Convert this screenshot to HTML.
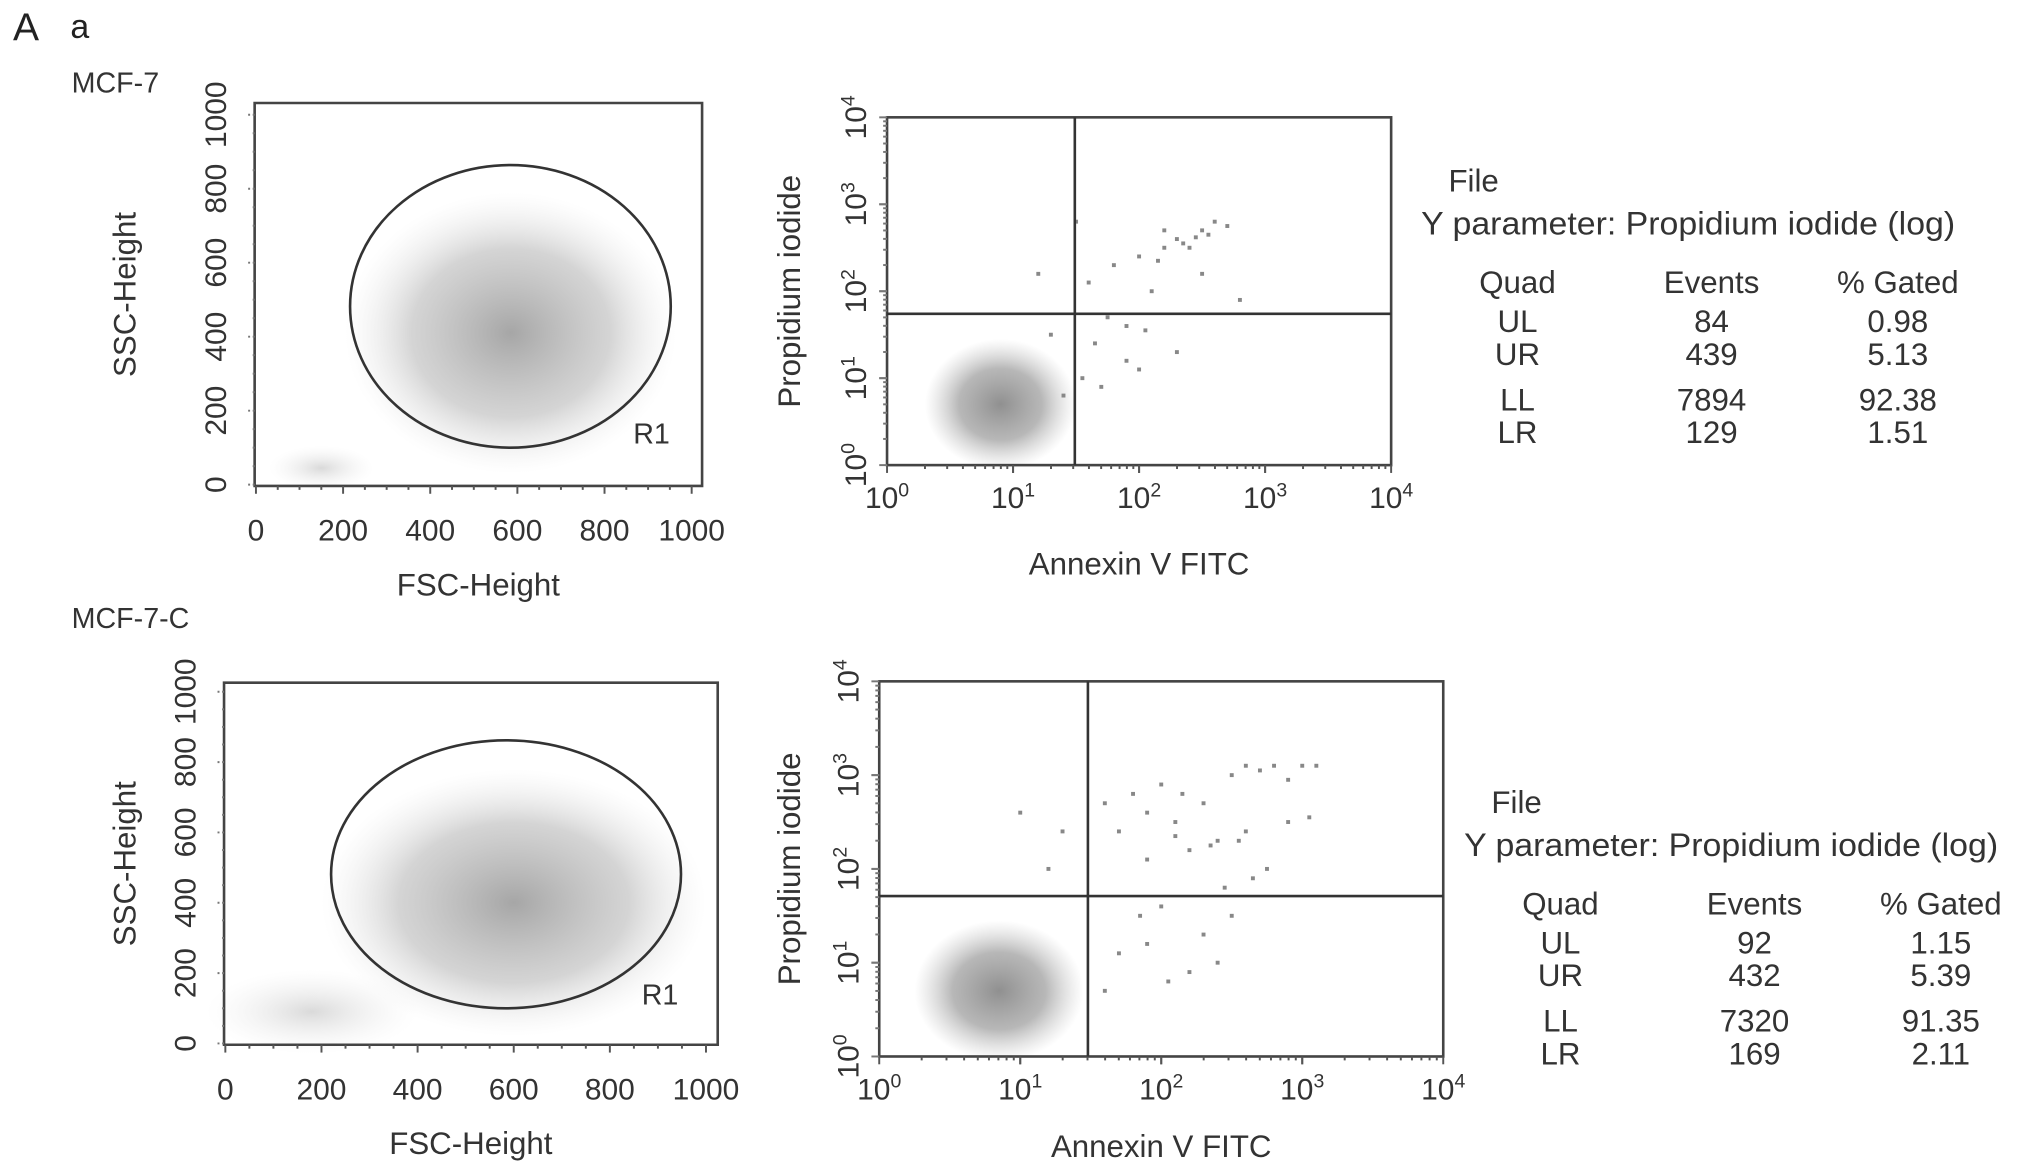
<!DOCTYPE html>
<html><head><meta charset="utf-8"><style>
html,body{margin:0;padding:0;background:#fff;}
svg{display:block;font-family:"Liberation Sans",sans-serif;}
</style></head><body>
<svg id="fig" width="2032" height="1166" viewBox="0 0 1560 895" xmlns="http://www.w3.org/2000/svg">
<defs>
<radialGradient id="gDense"><stop offset="0" stop-color="#8a8a8a" stop-opacity="0.95"/><stop offset="0.55" stop-color="#999" stop-opacity="0.7"/><stop offset="1" stop-color="#bbb" stop-opacity="0"/></radialGradient>
<radialGradient id="gSoft"><stop offset="0" stop-color="#909090" stop-opacity="0.8"/><stop offset="0.6" stop-color="#aaa" stop-opacity="0.5"/><stop offset="1" stop-color="#ddd" stop-opacity="0"/></radialGradient>
<radialGradient id="gFaint"><stop offset="0" stop-color="#d0d0d0" stop-opacity="0.8"/><stop offset="1" stop-color="#eee" stop-opacity="0"/></radialGradient>
</defs>
<text x="10" y="31" font-size="30" fill="#222">A</text>
<text x="54" y="29" font-size="26" fill="#222">a</text>
<g id="root"></g>
</svg>
<script>
// ---------- data ----------
const linTicks = [0, 200, 400, 600, 800, 1000];
const logTicks = [0, 1, 2, 3, 4];
// FSC/SSC density clusters: [main, debris]
const p1ClusterFsc = [585, 150];
const p1ClusterSsc = [410, 45];
const p1ClusterSdFsc = [190, 60];
const p1ClusterSdSsc = [190, 30];
const p2ClusterFsc = [600, 180];
const p2ClusterSsc = [400, 90];
const p2ClusterSdFsc = [200, 110];
const p2ClusterSdSsc = [190, 60];
// gate ellipse (data units): cx, cy, rx, ry
const gate1 = [584, 482, 368, 382];
const gate2 = [584, 481, 364, 381];
// Annexin/PI log clusters (log10 units)
const a1ClusterX = [0.9];
const a1ClusterY = [0.7];
const a2ClusterX = [0.85];
const a2ClusterY = [0.7];
// quadrant markers (log10)
const quad1 = [1.49, 1.74];
const quad2 = [1.48, 1.71];
// scattered events (log10 x, log10 y)
const a1PtsX = [2.3,2.5,2.2,2.6,2.0,1.8,2.4,2.7,1.6,2.1,1.9,2.3,2.0,1.7,2.8,1.5,2.5,2.2,2.35,2.45,1.3,1.2,1.65,2.05,1.9,2.55,1.4,2.15,1.75,1.55];
const a1PtsY = [2.6,2.7,2.5,2.8,2.4,2.3,2.5,2.75,2.1,2.0,1.6,1.3,1.1,0.9,1.9,2.8,2.2,2.7,2.55,2.62,1.5,2.2,1.4,1.55,1.2,2.65,0.8,2.35,1.7,1.0];
const a2PtsX = [1.6,1.8,1.9,2.0,2.1,2.3,2.5,2.6,2.7,2.8,2.9,3.0,3.1,2.4,2.2,1.7,1.9,2.1,2.35,2.55,2.75,2.0,2.3,2.5,1.7,1.9,2.2,2.4,1.2,1.0,1.3,2.6,1.6,2.9,2.05,2.45,1.85,2.65,3.05,2.15];
const a2PtsY = [2.7,2.8,2.6,2.9,2.5,2.7,3.0,3.1,3.05,3.1,2.95,3.1,3.1,2.3,2.2,2.4,2.1,2.35,2.25,2.3,2.0,1.6,1.3,1.5,1.1,1.2,0.9,1.0,2.0,2.6,2.4,2.4,0.7,2.5,0.8,1.8,1.5,1.9,2.55,2.8];
// stats tables
const quadNames = ["UL","UR","LL","LR"];
const events1 = ["84","439","7894","129"];
const gated1 = ["0.98","5.13","92.38","1.51"];
const events2 = ["92","432","7320","169"];
const gated2 = ["1.15","5.39","91.35","2.11"];

// ---------- helpers ----------
const NS = "http://www.w3.org/2000/svg";
const root = document.getElementById("root");
function mk(tag, attrs, parent){ const e=document.createElementNS(NS,tag); for(const k in attrs) e.setAttribute(k,attrs[k]); (parent||root).appendChild(e); return e; }
function txt(x,y,s,size,anchor,parent,extra){ const t=mk("text",Object.assign({x:x,y:y,"font-size":size,"text-anchor":anchor||"start",fill:"#333"},extra||{}),parent); t.textContent=s; return t; }

function linPlot(cfg){
  const g = mk("g",{});
  
  
  const sx = v => cfg.x0 + (v/1000)*(cfg.x1-cfg.x0);
  const sy = v => cfg.y0 - (v/1000)*(cfg.y0-cfg.y1);
  for(let i=0;i<cfg.cx.length;i++){
    const e = mk("ellipse",{cx:sx(cfg.cx[i]),cy:sy(cfg.cy[i]),rx:cfg.sdx[i]*2*(cfg.x1-cfg.x0)/1000,ry:cfg.sdy[i]*2*(cfg.y0-cfg.y1)/1000,fill:i===0?"url(#gSoft)":"url(#gFaint)"},g);
    
    
  }
  const f = mk("path",{d:`M${cfg.bl} ${cfg.bb} L${cfg.bl} ${cfg.bt} L${cfg.br} ${cfg.bt} L${cfg.br} ${cfg.bb} Z`,fill:"none",stroke:"#444","stroke-width":2},g);
  
  
  const gt = cfg.gate;
  const ge = mk("ellipse",{cx:sx(gt[0]),cy:sy(gt[1]),rx:gt[2]*(cfg.x1-cfg.x0)/1000,ry:gt[3]*(cfg.y0-cfg.y1)/1000,fill:"none",stroke:"#333","stroke-width":2},g);
  
  
  const rl = txt(sx(gt[0])+gt[2]*(cfg.x1-cfg.x0)/1000*0.88, sy(gt[1]-gt[3])-3, "R1", 22, "middle", g);
  
  
  for(let v=0; v<=1000; v+=50){
    const big = v%200===0;
    mk("line",{x1:sx(v),x2:sx(v),y1:cfg.bb,y2:cfg.bb+(big?6:3),stroke:"#555","stroke-width":1.5},g);
    mk("line",{x1:cfg.bl,x2:cfg.bl-(big?5:3),y1:sy(v),y2:sy(v),stroke:"#777","stroke-width":1.5,"stroke-dasharray":"1.5 2"},g);
  }
  linTicks.forEach(v=>{
    const t = txt(sx(v), cfg.bb+42, String(v), 23, "middle", g);
    
    
    const ty = txt(0,0,String(v),23,"middle",g,{transform:`translate(${cfg.bl-22},${sy(v)}) rotate(-90)`});
    
    
  });
  const xt = txt((cfg.bl+cfg.br)/2, cfg.bb+84, "FSC-Height", 24, "middle", g);
  
  
  const yt = txt(0,0,"SSC-Height",24,"middle",g,{transform:`translate(104,${(cfg.bt+cfg.bb)/2}) rotate(-90)`});
  
  
  const st = txt(55, cfg.labelY, cfg.sample, 22, "start", g);
  
  
}

function supText(x,y,p,size,anchor,g,transform){
  const t = mk("text",{x:x,y:y,"font-size":size,"text-anchor":anchor,fill:"#333"},g);
  if(transform) t.setAttribute("transform",transform);
  const a = mk("tspan",{},t); a.textContent="10";
  const b = mk("tspan",{dy:-9,"font-size":size*0.65},t); b.textContent=String(p);
  return t;
}

function logPlot(cfg){
  const g = mk("g",{});
  
  
  const sx = v => cfg.x0 + (v/4)*(cfg.x1-cfg.x0);
  const sy = v => cfg.y0 - (v/4)*(cfg.y0-cfg.y1);
  const dx=(cfg.x1-cfg.x0)/4, dy=(cfg.y0-cfg.y1)/4;
  for(let i=0;i<cfg.cx.length;i++){
    const e = mk("ellipse",{cx:sx(cfg.cx[i]),cy:sy(cfg.cy[i]),rx:dx*0.6,ry:dy*0.75,fill:"url(#gDense)"},g);
    
    
  }
  for(let i=0;i<cfg.px.length;i++){
    const c = mk("rect",{x:sx(cfg.px[i])-1.5,y:sy(cfg.py[i])-1.5,width:3,height:3,fill:"#888"},g);
    
    
  }
  const f = mk("rect",{x:cfg.x0,y:cfg.y1,width:cfg.x1-cfg.x0,height:cfg.y0-cfg.y1,fill:"none",stroke:"#444","stroke-width":2},g);
  
  
  const qv = mk("line",{x1:sx(cfg.quad[0]),x2:sx(cfg.quad[0]),y1:cfg.y1,y2:cfg.y0,stroke:"#333","stroke-width":2},g);
  
  
  const qh = mk("line",{x1:cfg.x0,x2:cfg.x1,y1:sy(cfg.quad[1]),y2:sy(cfg.quad[1]),stroke:"#333","stroke-width":2},g);
  
  
  for(let d=0; d<4; d++){
    for(let m=1;m<=10;m++){
      const lv = d+Math.log10(m);
      const big = m===1||m===10;
      mk("line",{x1:sx(lv),x2:sx(lv),y1:cfg.y0,y2:cfg.y0+(big?6:3),stroke:"#555","stroke-width":1.5},g);
      mk("line",{x1:cfg.x0,x2:cfg.x0-(big?6:3),y1:sy(lv),y2:sy(lv),stroke:"#777","stroke-width":1.5},g);
    }
  }
  logTicks.forEach(p=>{
    const t = supText(sx(p), cfg.y0+33, p, 23, "middle", g);
    
    
    const ty = supText(0,0,p,23,"middle",g,`translate(${cfg.x0-16},${sy(p)}) rotate(-90)`);
    
    
  });
  const xt = txt((cfg.x0+cfg.x1)/2, cfg.y0+cfg.titleOff, "Annexin V FITC", 24, "middle", g);
  
  
  const yt = txt(0,0,"Propidium iodide",24,"middle",g,{transform:`translate(614,${(cfg.y0+cfg.y1)/2}) rotate(-90)`});
  
  
}

function table(cfg){
  const g = mk("g",{});
  
  
  const a = txt(cfg.x+21, cfg.y, "File", 24, "start", g);
  
  
  const b = txt(cfg.x, cfg.y+33, "Y  parameter: Propidium iodide (log)", 25, "start", g, {textLength:410, lengthAdjust:"spacingAndGlyphs"});
  
  
  const cols = [cfg.x+74, cfg.x+223, cfg.x+366];
  ["Quad","Events","% Gated"].forEach((h,i)=>{
    const t = txt(cols[i], cfg.y+78, h, 24, "middle", g);
    
    
  });
  const rowY = [108, 133, 168, 193];
  quadNames.forEach((q,i)=>{
    [q, cfg.events[i], cfg.gated[i]].forEach((s,j)=>{
      const t = txt(cols[j], cfg.y+rowY[i], s, 24, "middle", g);
      
      
    });
  });
}

linPlot({name:"fsc-ssc-plot-mcf7", sample:"MCF-7", labelY:71, x0:196.5, x1:531, y0:372, y1:88, bl:195.5, br:539, bt:79, bb:373,
  cx:p1ClusterFsc, cy:p1ClusterSsc, sdx:p1ClusterSdFsc, sdy:p1ClusterSdSsc, gate:gate1});
linPlot({name:"fsc-ssc-plot-mcf7-c", sample:"MCF-7-C", labelY:482, x0:173, x1:542, y0:801, y1:531, bl:172, br:551, bt:524, bb:802,
  cx:p2ClusterFsc, cy:p2ClusterSsc, sdx:p2ClusterSdFsc, sdy:p2ClusterSdSsc, gate:gate2});
logPlot({name:"annexin-pi-plot-mcf7", x0:681, x1:1068, y0:357, y1:90, titleOff:84, cx:a1ClusterX, cy:a1ClusterY, px:a1PtsX, py:a1PtsY, quad:quad1});
logPlot({name:"annexin-pi-plot-mcf7-c", x0:675, x1:1108, y0:811, y1:523, titleOff:77, cx:a2ClusterX, cy:a2ClusterY, px:a2PtsX, py:a2PtsY, quad:quad2});
table({name:"quadrant-stats-mcf7", x:1091, y:147, events:events1, gated:gated1});
table({name:"quadrant-stats-mcf7-c", x:1124, y:624, events:events2, gated:gated2});
</script>
</body></html>
